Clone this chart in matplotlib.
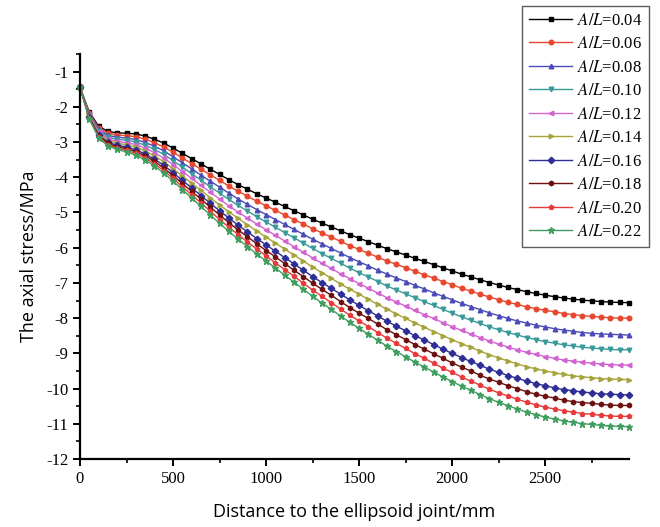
import matplotlib
matplotlib.use('Agg')
import matplotlib.pyplot as plt
from matplotlib.ticker import MultipleLocator

plt.rcParams['mathtext.fontset'] = 'stix'
plt.rcParams['axes.unicode_minus'] = False

# distance along the vessel, one sample every 50 mm
distance = list(range(0, 2951, 50))

al_ratio = ['0.04', '0.06', '0.08', '0.10', '0.12',
            '0.14', '0.16', '0.18', '0.20', '0.22']

s_004 = [-1.45, -2.15, -2.55, -2.70, -2.74, -2.75, -2.77, -2.83, -2.92, -3.03,
         -3.17, -3.32, -3.47, -3.62, -3.77, -3.92, -4.07, -4.21, -4.34, -4.47,
         -4.59, -4.71, -4.83, -4.95, -5.07, -5.19, -5.30, -5.41, -5.52, -5.63,
         -5.73, -5.83, -5.93, -6.03, -6.12, -6.21, -6.30, -6.39, -6.48, -6.57,
         -6.66, -6.75, -6.83, -6.91, -6.99, -7.06, -7.13, -7.19, -7.25, -7.30,
         -7.35, -7.39, -7.43, -7.46, -7.49, -7.51, -7.53, -7.545, -7.555, -7.56]
s_006 = [-1.45, -2.18, -2.59, -2.75, -2.80, -2.82, -2.85, -2.92, -3.02, -3.14,
         -3.29, -3.45, -3.61, -3.77, -3.93, -4.09, -4.25, -4.40, -4.54, -4.68,
         -4.81, -4.94, -5.07, -5.20, -5.33, -5.46, -5.58, -5.70, -5.82, -5.94,
         -6.05, -6.16, -6.27, -6.38, -6.47, -6.57, -6.67, -6.77, -6.86, -6.96,
         -7.05, -7.15, -7.23, -7.32, -7.40, -7.48, -7.55, -7.61, -7.68, -7.73,
         -7.78, -7.82, -7.87, -7.90, -7.93, -7.95, -7.97, -7.99, -8.00, -8.00]
s_008 = [-1.45, -2.20, -2.64, -2.81, -2.86, -2.89, -2.93, -3.01, -3.12, -3.25,
         -3.42, -3.59, -3.76, -3.94, -4.11, -4.28, -4.45, -4.62, -4.77, -4.92,
         -5.06, -5.20, -5.34, -5.48, -5.62, -5.76, -5.89, -6.02, -6.15, -6.28,
         -6.40, -6.52, -6.64, -6.75, -6.86, -6.96, -7.07, -7.17, -7.28, -7.38,
         -7.48, -7.58, -7.67, -7.76, -7.85, -7.93, -8.01, -8.08, -8.14, -8.20,
         -8.25, -8.30, -8.34, -8.37, -8.41, -8.43, -8.45, -8.46, -8.47, -8.48]
s_010 = [-1.45, -2.23, -2.68, -2.86, -2.92, -2.95, -3.00, -3.09, -3.21, -3.35,
         -3.53, -3.71, -3.90, -4.08, -4.27, -4.45, -4.63, -4.80, -4.96, -5.12,
         -5.27, -5.42, -5.57, -5.72, -5.87, -6.02, -6.17, -6.30, -6.44, -6.58,
         -6.71, -6.83, -6.96, -7.09, -7.20, -7.31, -7.42, -7.53, -7.64, -7.75,
         -7.86, -7.96, -8.06, -8.15, -8.25, -8.33, -8.41, -8.48, -8.55, -8.61,
         -8.67, -8.71, -8.76, -8.79, -8.83, -8.85, -8.87, -8.89, -8.90, -8.90]
s_012 = [-1.45, -2.25, -2.72, -2.91, -2.98, -3.02, -3.07, -3.17, -3.30, -3.46,
         -3.64, -3.84, -4.03, -4.23, -4.42, -4.62, -4.81, -4.99, -5.16, -5.33,
         -5.49, -5.65, -5.81, -5.97, -6.13, -6.29, -6.44, -6.59, -6.74, -6.88,
         -7.02, -7.15, -7.29, -7.42, -7.54, -7.66, -7.78, -7.90, -8.01, -8.13,
         -8.24, -8.35, -8.45, -8.55, -8.65, -8.74, -8.82, -8.90, -8.97, -9.03,
         -9.09, -9.14, -9.19, -9.22, -9.25, -9.28, -9.30, -9.32, -9.33, -9.33]
s_014 = [-1.45, -2.27, -2.76, -2.96, -3.03, -3.08, -3.14, -3.25, -3.39, -3.56,
         -3.76, -3.96, -4.17, -4.37, -4.58, -4.79, -4.98, -5.17, -5.35, -5.53,
         -5.70, -5.87, -6.04, -6.21, -6.38, -6.55, -6.71, -6.87, -7.03, -7.18,
         -7.32, -7.47, -7.61, -7.75, -7.88, -8.01, -8.14, -8.26, -8.38, -8.50,
         -8.61, -8.73, -8.83, -8.94, -9.04, -9.13, -9.22, -9.30, -9.38, -9.44,
         -9.50, -9.55, -9.60, -9.64, -9.67, -9.69, -9.72, -9.73, -9.74, -9.75]
s_016 = [-1.45, -2.30, -2.80, -3.01, -3.09, -3.14, -3.22, -3.34, -3.49, -3.66,
         -3.87, -4.09, -4.30, -4.52, -4.74, -4.95, -5.16, -5.36, -5.55, -5.74,
         -5.92, -6.10, -6.28, -6.46, -6.64, -6.82, -6.99, -7.15, -7.32, -7.48,
         -7.64, -7.79, -7.94, -8.09, -8.23, -8.36, -8.50, -8.62, -8.75, -8.88,
         -9.00, -9.12, -9.23, -9.34, -9.45, -9.54, -9.63, -9.71, -9.79, -9.86,
         -9.92, -9.98, -10.03, -10.06, -10.10, -10.12, -10.15, -10.16, -10.17, -10.18]
s_018 = [-1.45, -2.32, -2.82, -3.04, -3.13, -3.19, -3.27, -3.39, -3.55, -3.74,
         -3.95, -4.18, -4.40, -4.62, -4.85, -5.07, -5.29, -5.50, -5.69, -5.89,
         -6.08, -6.26, -6.45, -6.64, -6.82, -7.01, -7.18, -7.35, -7.53, -7.70,
         -7.86, -8.01, -8.17, -8.33, -8.47, -8.61, -8.75, -8.88, -9.01, -9.14,
         -9.27, -9.39, -9.50, -9.62, -9.73, -9.82, -9.92, -10.00, -10.09, -10.16,
         -10.22, -10.27, -10.33, -10.37, -10.40, -10.42, -10.45, -10.47, -10.48, -10.48]
s_020 = [-1.45, -2.33, -2.85, -3.08, -3.17, -3.24, -3.32, -3.45, -3.62, -3.81,
         -4.03, -4.27, -4.50, -4.73, -4.96, -5.20, -5.42, -5.63, -5.84, -6.04,
         -6.23, -6.43, -6.62, -6.81, -7.01, -7.20, -7.38, -7.56, -7.74, -7.92,
         -8.08, -8.24, -8.41, -8.57, -8.72, -8.86, -9.01, -9.14, -9.28, -9.42,
         -9.54, -9.67, -9.79, -9.90, -10.02, -10.12, -10.21, -10.30, -10.39, -10.46,
         -10.53, -10.58, -10.63, -10.67, -10.71, -10.73, -10.76, -10.78, -10.79, -10.79]
s_022 = [-1.45, -2.35, -2.88, -3.11, -3.21, -3.28, -3.37, -3.51, -3.68, -3.88,
         -4.11, -4.35, -4.59, -4.83, -5.07, -5.31, -5.54, -5.76, -5.97, -6.18,
         -6.38, -6.58, -6.78, -6.98, -7.18, -7.38, -7.57, -7.75, -7.94, -8.12,
         -8.29, -8.46, -8.63, -8.80, -8.95, -9.10, -9.25, -9.39, -9.53, -9.67,
         -9.80, -9.93, -10.05, -10.17, -10.29, -10.39, -10.49, -10.58, -10.67, -10.74,
         -10.81, -10.865, -10.92, -10.96, -10.995, -11.02, -11.045, -11.065, -11.075, -11.08]

series = [s_004, s_006, s_008, s_010, s_012, s_014, s_016, s_018, s_020, s_022]
colors = ['#000000', '#e8472e', '#4a4ab8', '#3a9a9a', '#d264d2',
          '#a6a43c', '#2e2e96', '#6e1010', '#e83a3a', '#3f9e5e']
markers = ['s', 'o', '^', 'v', '<', '>', 'D', 'h', 'p', '*']

fig = plt.figure(figsize=(6.6, 5.27), dpi=100)
ax = fig.add_axes([80 / 660, 1 - 459 / 527, 549 / 660, 405 / 527])

for vals, c, m, lab in zip(series, colors, markers, al_ratio):
    ms = 4.5 if m == '*' else 3.3
    ax.plot(distance, vals, color=c, marker=m, markersize=ms, lw=1.0,
            clip_on=False, label=r'$A/L$=' + lab)

ax.set_xlim(0, 2950)
ax.set_ylim(-12, -0.5)
ax.xaxis.set_major_locator(MultipleLocator(500))
ax.xaxis.set_minor_locator(MultipleLocator(250))
ax.yaxis.set_major_locator(MultipleLocator(1))
ax.yaxis.set_minor_locator(MultipleLocator(0.5))

for side in ['top', 'right']:
    ax.spines[side].set_visible(False)
for side in ['left', 'bottom']:
    ax.spines[side].set_linewidth(1.6)

ax.tick_params(which='major', direction='out', length=5, width=1.4,
               labelsize=12)
ax.tick_params(which='minor', direction='out', length=3, width=1.2)
for lbl in ax.get_xticklabels() + ax.get_yticklabels():
    lbl.set_fontfamily('Liberation Serif')

ax.set_xlabel('Distance to the ellipsoid joint/mm', fontsize=13,
              family='Open Sans', labelpad=12)
ax.set_ylabel('The axial stress/MPa', fontsize=13, family='Open Sans',
              labelpad=6)

leg = fig.legend(loc='upper right', bbox_to_anchor=(649 / 660, 1 - 6 / 527),
                 prop={'family': 'Liberation Serif', 'size': 12},
                 frameon=True, fancybox=False, edgecolor='#333333',
                 handlelength=2.6, labelspacing=0.45, borderpad=0.4,
                 handletextpad=0.3, borderaxespad=0)
leg.get_frame().set_linewidth(1.0)

fig.savefig('out.png', dpi=100)
